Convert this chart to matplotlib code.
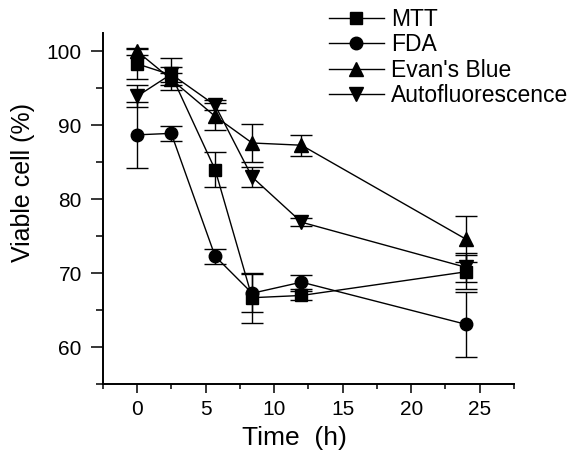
import numpy as np
import matplotlib
matplotlib.use("Agg")
import matplotlib.pyplot as plt
from matplotlib.ticker import MultipleLocator

plt.rcParams['font.family'] = ['Liberation Sans', 'DejaVu Sans']

# ==================== data ====================
time_h = [0, 2.5, 5.7, 8.4, 12, 24]

mtt = [98.3, 96.8, 84.0, 66.7, 67.0, 70.2]
mtt_err = [2.0, 1.0, 2.35, 3.4, 0.6, 2.3]

fda = [88.7, 88.9, 72.3, 67.3, 68.8, 63.1]
fda_err = [4.5, 1.0, 1.0, 2.6, 0.9, 4.4]

evans = [100.0, 96.2, 91.2, 87.6, 87.3, 74.6]
evans_err = [0.5, 0.8, 1.8, 2.6, 1.4, 3.1]

autofl = [93.9, 96.9, 92.7, 83.0, 76.9, 70.8]
autofl_err = [1.5, 2.2, 0.7, 1.3, 0.5, 2.0]

series = [
    ("MTT", mtt, mtt_err, "s", 8),
    ("FDA", fda, fda_err, "o", 9),
    ("Evan's Blue", evans, evans_err, "^", 10),
    ("Autofluorescence", autofl, autofl_err, "v", 10),
]

# ==================== figure ====================
fig = plt.figure(figsize=(5.78, 4.54), dpi=100)
ax = fig.add_axes([102.7 / 578, 1 - 384.3 / 454, 411.3 / 578, 351.6 / 454])

handles = []
for name, y, err, mk, ms in series:
    ax.errorbar(time_h, y, yerr=err, fmt="none", ecolor="black",
                elinewidth=1.0, capsize=8, capthick=1.0, zorder=2)
    h, = ax.plot(time_h, y, color="black", linewidth=1.0, marker=mk,
                 markersize=ms, markerfacecolor="black",
                 markeredgecolor="black", label=name, zorder=3)
    handles.append(h)

ax.set_xlim(-2.5, 27.5)
ax.set_ylim(55, 102.5)
ax.xaxis.set_major_locator(MultipleLocator(5))
ax.xaxis.set_minor_locator(MultipleLocator(2.5))
ax.yaxis.set_major_locator(MultipleLocator(10))
ax.yaxis.set_minor_locator(MultipleLocator(5))
ax.set_yticks([60, 70, 80, 90, 100])

for s in ["top", "right"]:
    ax.spines[s].set_visible(False)
for s in ["left", "bottom"]:
    ax.spines[s].set_linewidth(1.4)

ax.tick_params(axis="y", which="major", direction="out", length=9, width=1.1,
               labelsize=15, pad=6)
ax.tick_params(axis="y", which="minor", direction="out", length=5, width=1.1)
ax.tick_params(axis="x", which="major", direction="out", length=6.5, width=1.1,
               labelsize=15, pad=5)
ax.tick_params(axis="x", which="minor", direction="out", length=3.6, width=1.1)

ax.set_xlabel("Time  (h)", fontsize=19)
ax.set_ylabel("Viable cell (%)", fontsize=18)
ax.xaxis.set_label_coords(0.466, -0.119)
ax.yaxis.set_label_coords(-0.165, 0.574)

fig.legend(handles=handles, loc="upper left",
           bbox_to_anchor=(329 / 578, 1 - 8 / 454),
           frameon=False, fontsize=16.5, handlelength=2.4,
           handletextpad=0.3, labelspacing=0.1, borderpad=0,
           borderaxespad=0)

fig.savefig("out.png", dpi=100)
